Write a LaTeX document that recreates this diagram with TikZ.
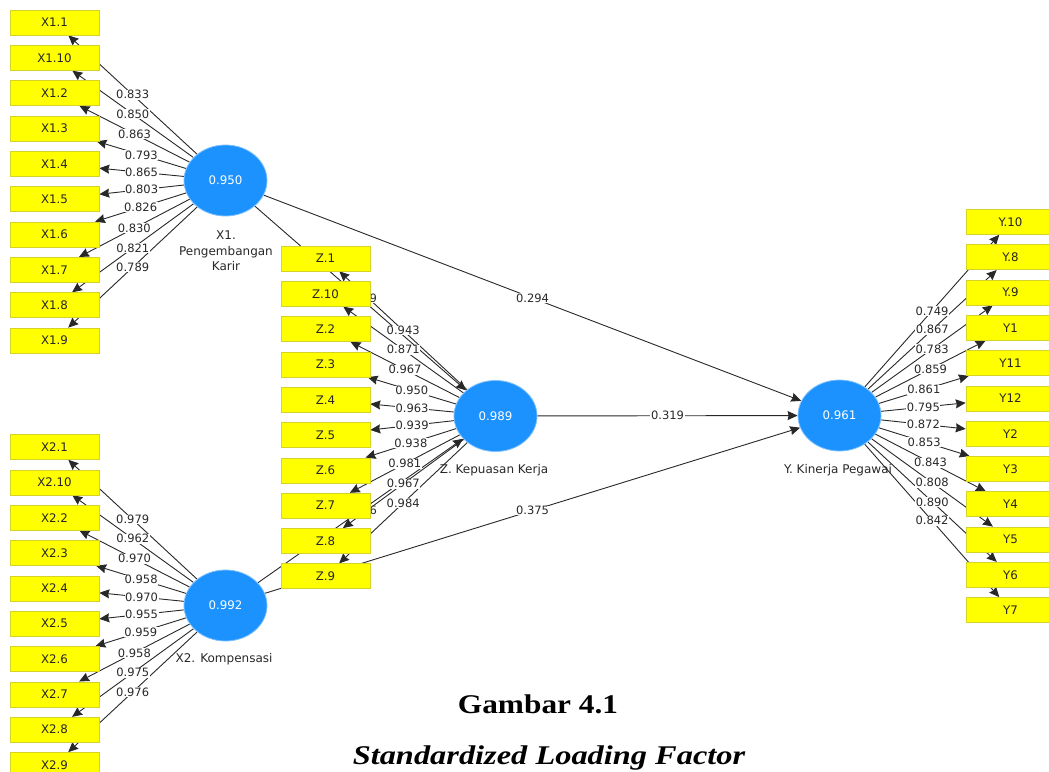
\documentclass[tikz,border=0pt]{standalone}
\usepackage{fontspec}
\setmainfont{DejaVu Sans}
\newfontfamily\capfont{Liberation Serif}
\usetikzlibrary{shapes.geometric,arrows.meta}
\pgfdeclarelayer{edges}
\pgfdeclarelayer{labels}
\pgfsetlayers{edges,labels,main}

\definecolor{indfill}{RGB}{255,255,0}
\definecolor{inddraw}{RGB}{212,212,40}
\definecolor{latfill}{RGB}{28,146,255}
\definecolor{latdraw}{RGB}{125,192,255}
\definecolor{ink}{RGB}{40,40,40}

\tikzset{
  ind/.style={rectangle, fill=indfill, draw=inddraw, line width=0.6pt,
    minimum width=89pt, minimum height=25pt, inner sep=0pt,
    text=black!85, font=\fontsize{11.8}{13}\selectfont},
  lat/.style={ellipse, fill=latfill, draw=latdraw, line width=0.8pt,
    minimum width=83pt, minimum height=71pt, inner sep=0pt,
    text=white, font=\fontsize{11.8}{13}\selectfont},
  latname/.style={text=ink, align=center, font=\fontsize{12}{15.5}\selectfont},
  edge/.style={draw=ink, line width=0.9pt,
    -{Stealth[length=10pt,width=9pt,inset=1pt]}},
  lbl/.style={fill=white, text=ink, inner sep=0.6pt,
    font=\fontsize{11.5}{13}\selectfont, midway},
}

% arrow from one node to another, its value set halfway along it
\newcommand\pathedge[3]{%
  \begin{pgfonlayer}{edges}\draw[edge] (#1) -- (#2);\end{pgfonlayer}%
  \begin{pgfonlayer}{labels}\path (#1) -- (#2) node[lbl] {#3};\end{pgfonlayer}%
}

\begin{document}
\begin{tikzpicture}[x=1pt,y=-1pt]
\useasboundingbox (0,0) rectangle (1049,771);

% latent constructs
\node[lat] (xone) at (225.5,180.5) {0.950};
\node[lat] (xtwo) at (225.5,605.5) {0.992};
\node[lat] (zlat) at (495.5,416)   {0.989};
\node[lat] (ylat) at (839.5,415.5) {0.961};

\node[latname] (xonename) at (226,251) {X1.\\Pengembangan\\Karir};
\node[latname] (xtwoname) at (224,659) {X2. Kompensasi};
\node[latname] (zname) at (494,470) {Z. Kepuasan Kerja};
\node[latname] (yname) at (838,470) {Y. Kinerja Pegawai};

% indicator boxes
\foreach \t [count=\i from 0] in {X1.1,X1.10,X1.2,X1.3,X1.4,X1.5,X1.6,X1.7,X1.8,X1.9}
  \node[ind] (xa\i) at (54.5, 22.5+35.33*\i) {\t};
\foreach \t [count=\i from 0] in {X2.1,X2.10,X2.2,X2.3,X2.4,X2.5,X2.6,X2.7,X2.8,X2.9}
  \node[ind] (xb\i) at (54.5, 447+35.33*\i) {\t};
\foreach \t [count=\i from 0] in {Z.1,Z.10,Z.2,Z.3,Z.4,Z.5,Z.6,Z.7,Z.8,Z.9}
  \node[ind] (zi\i) at (325.5, 258.5+35.3*\i) {\t};
\foreach \t [count=\i from 0] in {Y.10,Y.8,Y.9,Y1,Y11,Y12,Y2,Y3,Y4,Y5,Y6,Y7}
  \node[ind] (yi\i) at (1010.5, 222+35.27*\i) {\t};

% outer loadings
\foreach \v [count=\i from 0] in {0.833,0.850,0.863,0.793,0.865,0.803,0.826,0.830,0.821,0.789}
  {\pathedge{xone}{xa\i}{\v}}
\foreach \v [count=\i from 0] in {0.979,0.962,0.970,0.958,0.970,0.955,0.959,0.958,0.975,0.976}
  {\pathedge{xtwo}{xb\i}{\v}}
\foreach \v [count=\i from 0] in {0.943,0.871,0.967,0.950,0.963,0.939,0.938,0.981,0.967,0.984}
  {\pathedge{zlat}{zi\i}{\v}}
\foreach \v [count=\i from 0] in {0.749,0.867,0.783,0.859,0.861,0.795,0.872,0.853,0.843,0.808,0.890,0.842}
  {\pathedge{ylat}{yi\i}{\v}}

% structural paths
\pathedge{xone}{zlat}{\phantom{0.00}9}
\pathedge{xtwo}{zlat}{\phantom{0.00}6}
\pathedge{xone}{ylat}{0.294}
\pathedge{zlat}{ylat}{0.319}
\pathedge{xtwo}{ylat}{0.375}

% caption
\node[anchor=base, inner sep=0pt] (captitle) at (538,713)
  {\scalebox{1.16}[1]{\capfont\fontsize{27}{27}\selectfont\bfseries Gambar 4.1}};
\node[anchor=base, inner sep=0pt] (capsub) at (549,764)
  {\scalebox{1.2}[1]{\capfont\fontsize{27}{27}\selectfont\bfseries\itshape Standardized Loading Factor}};
\end{tikzpicture}
\end{document}
